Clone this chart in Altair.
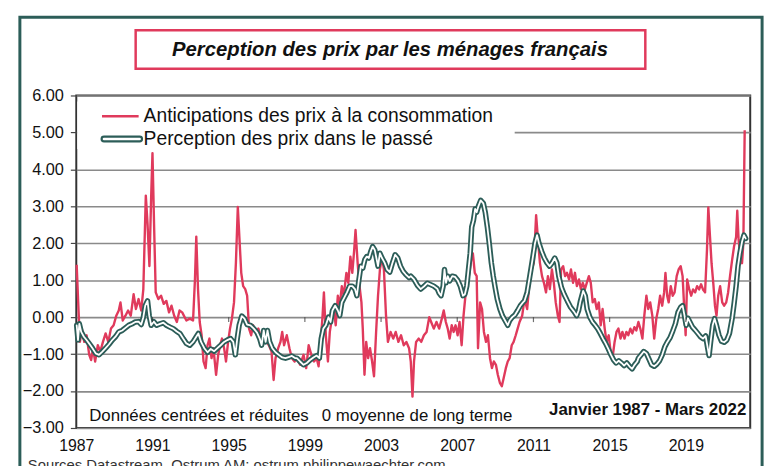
import altair as alt
import pandas as pd

# ---------------- data ----------------
red_years = [1987.02, 1987.10, 1987.19, 1987.29, 1987.42, 1987.54, 1987.68, 1987.78, 1987.88, 1987.99,
             1988.13, 1988.26, 1988.40, 1988.54, 1988.68, 1988.82, 1988.96, 1989.10, 1989.23, 1989.32,
             1989.44, 1989.58, 1989.72, 1989.86, 1990.01, 1990.13, 1990.27, 1990.41, 1990.52, 1990.65,
             1990.74, 1990.84, 1990.93, 1991.00, 1991.09, 1991.17, 1991.31, 1991.45, 1991.59, 1991.73,
             1991.87, 1992.00, 1992.14, 1992.28, 1992.42, 1992.56, 1992.78, 1992.96, 1993.13, 1993.23,
             1993.30, 1993.39, 1993.48, 1993.58, 1993.68, 1993.79, 1993.89, 1993.99, 1994.10, 1994.20,
             1994.34, 1994.45, 1994.55, 1994.65, 1994.76, 1994.86, 1994.97, 1995.07, 1995.17, 1995.28,
             1995.38, 1995.48, 1995.57, 1995.66, 1995.76, 1995.87, 1995.97, 1996.07, 1996.18, 1996.28,
             1996.42, 1996.56, 1996.70, 1996.84, 1996.98, 1997.11, 1997.25, 1997.36, 1997.46, 1997.60,
             1997.72, 1997.81, 1997.91, 1998.05, 1998.19, 1998.32, 1998.46, 1998.58, 1998.75, 1998.93,
             1999.07, 1999.20, 1999.34, 1999.48, 1999.62, 1999.72, 1999.83, 1999.93, 2000.00, 2000.10,
             2000.21, 2000.31, 2000.42, 2000.52, 2000.62, 2000.73, 2000.83, 2000.94, 2001.04, 2001.18,
             2001.28, 2001.39, 2001.49, 2001.59, 2001.66, 2001.77, 2001.87, 2001.97, 2002.04, 2002.13,
             2002.22, 2002.32, 2002.42, 2002.53, 2002.63, 2002.74, 2002.84, 2002.94, 2003.05, 2003.15,
             2003.26, 2003.36, 2003.50, 2003.64, 2003.77, 2003.91, 2004.05, 2004.19, 2004.33, 2004.47,
             2004.56, 2004.65, 2004.73, 2004.84, 2004.98, 2005.11, 2005.25, 2005.39, 2005.53, 2005.63,
             2005.77, 2005.91, 2006.05, 2006.19, 2006.29, 2006.40, 2006.50, 2006.60, 2006.71, 2006.81,
             2006.91, 2007.02, 2007.12, 2007.23, 2007.33, 2007.43, 2007.54, 2007.64, 2007.75, 2007.82,
             2007.92, 2008.02, 2008.09, 2008.20, 2008.30, 2008.40, 2008.51, 2008.61, 2008.72, 2008.82,
             2008.92, 2009.03, 2009.13, 2009.24, 2009.34, 2009.44, 2009.55, 2009.65, 2009.75, 2009.86,
             2009.96, 2010.07, 2010.17, 2010.27, 2010.41, 2010.53, 2010.67, 2010.79, 2010.91, 2011.02,
             2011.14, 2011.24, 2011.34, 2011.45, 2011.55, 2011.66, 2011.76, 2011.86, 2011.97, 2012.07,
             2012.17, 2012.28, 2012.37, 2012.45, 2012.56, 2012.66, 2012.76, 2012.87, 2012.97, 2013.08,
             2013.18, 2013.28, 2013.39, 2013.49, 2013.59, 2013.70, 2013.80, 2013.91, 2014.01, 2014.11,
             2014.22, 2014.32, 2014.43, 2014.53, 2014.63, 2014.74, 2014.84, 2014.95, 2015.05, 2015.15,
             2015.26, 2015.36, 2015.46, 2015.57, 2015.67, 2015.78, 2015.88, 2015.98, 2016.09, 2016.19,
             2016.30, 2016.40, 2016.51, 2016.61, 2016.72, 2016.82, 2016.93, 2017.03, 2017.13, 2017.24,
             2017.34, 2017.45, 2017.55, 2017.65, 2017.76, 2017.86, 2017.93, 2018.02, 2018.10, 2018.21,
             2018.31, 2018.41, 2018.52, 2018.62, 2018.73, 2018.83, 2018.90, 2018.99, 2019.07, 2019.18,
             2019.28, 2019.38, 2019.49, 2019.59, 2019.70, 2019.80, 2019.90, 2020.01, 2020.11, 2020.18,
             2020.27, 2020.35, 2020.44, 2020.53, 2020.61, 2020.70, 2020.80, 2020.91, 2021.01, 2021.12,
             2021.22, 2021.32, 2021.43, 2021.53, 2021.64, 2021.70, 2021.77, 2021.86, 2021.95, 2022.02,
             2022.09]
red_vals = [1.42, 0.40, -0.67, -0.31, -0.67, -0.49, -1.02, -1.16, -0.84, -1.20,
            -0.76, -0.93, -0.67, -0.44, -0.67, -0.31, -0.22, 0.04, 0.18, 0.40,
            -0.09, 0.04, 0.18, 0.04, 0.62, 0.22, 0.49, 0.18, 0.76, 3.29,
            2.53, 1.38, 3.24, 4.44, 2.36, 0.67, 0.49, 0.58, 0.36, 0.44,
            0.13, 0.31, 0.04, -0.13, 0.18, 0.13, -0.09, -0.04, -0.09, 1.02,
            2.18, 0.76, -0.13, -0.49, -1.20, -1.38, -0.76, -0.58, -1.11, -0.84,
            -1.56, -1.02, -0.76, -0.58, -0.84, -1.20, -0.67, -0.31, -0.04, 0.40,
            1.47, 2.98, 2.09, 1.20, 0.84, 0.76, 0.58, -0.31, -0.49, -0.22,
            -0.40, -0.31, -0.58, -0.40, -0.67, -0.76, -0.93, -1.70, -1.11, -0.84,
            -0.67, -0.40, -0.76, -0.49, -0.84, -1.11, -1.20, -1.11, -1.29, -1.02,
            -1.38, -0.76, -1.02, -1.20, -1.11, -1.33, -0.67, 0.04, 0.67, -0.49,
            -1.20, -0.40, -0.04, 0.22, -0.22, 0.58, 0.31, 0.84, 0.58, 1.20,
            0.93, 1.64, 1.20, 1.82, 2.36, 1.47, 0.84, 0.40, -0.31, -1.56,
            -0.67, -1.11, -0.84, -1.20, -1.60, -0.40, 0.58, 1.29, 1.64, 1.29,
            0.04, -0.67, -0.40, -0.58, -0.40, -0.67, -0.49, -0.76, -0.67, -0.84,
            -1.20, -2.15, -1.20, -0.67, -0.58, -0.67, -0.49, -0.40, 0.00, -0.13,
            -0.31, -0.13, -0.31, -0.04, 0.18, -0.13, -0.31, -0.58, -0.22, -0.40,
            -0.22, -0.49, -0.13, -0.76, 0.04, 0.58, 0.93, 1.20, 1.64, 1.73,
            1.20, 1.11, -0.84, 0.40, 0.22, -0.40, -0.67, -0.49, -1.11, -1.38,
            -1.20, -1.29, -1.56, -1.78, -1.87, -1.64, -1.38, -1.20, -1.11, -0.76,
            -0.67, -0.49, -0.31, -0.13, 0.04, 0.49, 0.22, 0.93, 1.29, 1.47,
            2.76, 2.09, 1.47, 1.11, 0.93, 0.67, 1.11, 0.76, 1.29, 0.93,
            0.40, 0.04, -0.13, 1.29, 1.38, 1.11, 1.20, 1.02, 1.29, 0.93,
            1.20, 0.84, 1.02, 0.76, 0.93, 0.76, 0.93, 1.11, 0.93, 0.40,
            0.49, 0.22, 0.40, -0.22, 0.22, -0.31, -0.67, -0.49, -0.93, -1.11,
            -0.67, -0.40, -0.31, -0.58, -0.40, -0.58, -0.40, -0.49, -0.31, -0.44,
            -0.27, -0.36, -0.13, -0.31, -0.58, 0.04, 0.58, 0.22, 0.40, 0.04,
            -0.58, -0.04, 0.22, 0.58, 0.31, 0.67, 1.20, 0.58, 0.40, 0.84,
            0.58, 0.67, 1.11, 1.29, 1.38, 1.11, 0.40, -0.49, 1.02, 0.75,
            0.58, 0.75, 0.67, 0.84, 0.75, 0.89, 0.75, 0.67, 1.82, 2.97,
            2.17, 1.46, 0.93, 0.31, 0.04, 0.58, 0.84, 0.40, 0.31, 0.40,
            0.67, 1.11, 1.55, 1.91, 2.17, 2.88, 2.09, 1.64, 1.46, 2.00,
            5.06]

perc_years = [1987.02, 1987.09, 1987.16, 1987.26, 1987.40, 1987.54, 1987.67, 1987.85, 1988.02, 1988.19,
              1988.37, 1988.54, 1988.71, 1988.89, 1989.06, 1989.23, 1989.41, 1989.58, 1989.75, 1989.93,
              1990.10, 1990.27, 1990.41, 1990.52, 1990.62, 1990.74, 1990.83, 1990.93, 1991.07, 1991.22,
              1991.40, 1991.57, 1991.74, 1991.92, 1992.09, 1992.26, 1992.44, 1992.61, 1992.78, 1992.96,
              1993.13, 1993.30, 1993.41, 1993.55, 1993.72, 1993.89, 1994.06, 1994.24, 1994.41, 1994.58,
              1994.76, 1994.93, 1995.10, 1995.24, 1995.35, 1995.45, 1995.55, 1995.69, 1995.83, 1995.97,
              1996.14, 1996.32, 1996.49, 1996.63, 1996.73, 1996.84, 1996.94, 1997.04, 1997.15, 1997.29,
              1997.46, 1997.63, 1997.81, 1997.98, 1998.15, 1998.32, 1998.50, 1998.58, 1998.75, 1998.93,
              1999.10, 1999.27, 1999.45, 1999.62, 1999.76, 1999.86, 1999.97, 2000.10, 2000.24, 2000.35,
              2000.45, 2000.59, 2000.73, 2000.83, 2000.94, 2001.07, 2001.21, 2001.35, 2001.49, 2001.63,
              2001.73, 2001.84, 2001.94, 2002.04, 2002.15, 2002.25, 2002.36, 2002.46, 2002.56, 2002.67,
              2002.77, 2002.84, 2002.94, 2003.05, 2003.19, 2003.32, 2003.46, 2003.60, 2003.74, 2003.88,
              2004.02, 2004.16, 2004.29, 2004.47, 2004.56, 2004.73, 2004.91, 2005.08, 2005.25, 2005.43,
              2005.60, 2005.77, 2005.95, 2006.05, 2006.15, 2006.26, 2006.33, 2006.41, 2006.50, 2006.60,
              2006.74, 2006.88, 2007.02, 2007.16, 2007.30, 2007.40, 2007.50, 2007.59, 2007.68, 2007.76,
              2007.85, 2007.94, 2008.02, 2008.11, 2008.23, 2008.37, 2008.47, 2008.58, 2008.68, 2008.79,
              2008.89, 2008.99, 2009.10, 2009.24, 2009.37, 2009.51, 2009.65, 2009.75, 2009.89, 2010.03,
              2010.17, 2010.31, 2010.45, 2010.53, 2010.67, 2010.81, 2010.95, 2011.08, 2011.19, 2011.29,
              2011.43, 2011.57, 2011.71, 2011.85, 2011.98, 2012.12, 2012.23, 2012.33, 2012.47, 2012.61,
              2012.78, 2012.95, 2013.13, 2013.27, 2013.37, 2013.47, 2013.61, 2013.72, 2013.82, 2013.96,
              2014.10, 2014.24, 2014.37, 2014.51, 2014.65, 2014.79, 2014.93, 2015.07, 2015.21, 2015.34,
              2015.48, 2015.62, 2015.76, 2015.90, 2016.04, 2016.18, 2016.31, 2016.45, 2016.51, 2016.65,
              2016.79, 2016.93, 2017.06, 2017.20, 2017.34, 2017.48, 2017.62, 2017.76, 2017.90, 2018.03,
              2018.17, 2018.31, 2018.45, 2018.59, 2018.73, 2018.83, 2018.93, 2019.02, 2019.11, 2019.21,
              2019.35, 2019.49, 2019.63, 2019.77, 2019.90, 2020.04, 2020.15, 2020.22, 2020.30, 2020.41,
              2020.51, 2020.61, 2020.74, 2020.87, 2021.01, 2021.15, 2021.29, 2021.43, 2021.53, 2021.64,
              2021.74, 2021.84, 2021.95, 2022.05, 2022.14]
perc_vals = [-0.22, -0.62, -0.18, -0.40, -0.53, -0.62, -0.71, -0.84, -0.98, -1.02,
             -0.93, -0.84, -0.74, -0.62, -0.53, -0.40, -0.36, -0.29, -0.22, -0.18,
             -0.13, -0.12, -0.20, 0.00, 0.31, 0.44, 0.04, -0.22, -0.12, -0.22,
             -0.18, -0.15, -0.22, -0.27, -0.31, -0.38, -0.44, -0.58, -0.71, -0.76,
             -0.67, -0.53, -0.44, -0.67, -0.84, -0.95, -0.86, -0.92, -0.84, -0.76,
             -0.67, -0.62, -0.58, -0.67, -1.02, -0.58, -0.22, 0.03, -0.04, -0.20,
             -0.22, -0.31, -0.42, -0.58, -0.76, -0.36, -0.67, -0.36, -0.67, -0.84,
             -0.95, -1.02, -1.09, -1.11, -1.08, -1.05, -1.11, -1.11, -1.20, -1.29,
             -1.24, -1.16, -1.09, -1.04, -1.11, -0.58, -0.31, -0.22, 0.00, -0.13,
             0.18, 0.31, 0.18, 0.04, 0.40, 0.53, 0.67, 0.84, 0.84, 0.76,
             0.58, 1.02, 1.38, 1.33, 1.56, 1.64, 1.60, 1.78, 1.91, 1.82,
             1.56, 1.38, 1.73, 1.60, 1.47, 1.29, 1.22, 1.47, 1.69, 1.60,
             1.38, 1.24, 1.16, 1.07, 1.11, 1.02, 0.86, 0.76, 0.83, 0.92,
             0.88, 0.84, 0.77, 0.65, 0.58, 0.84, 1.29, 0.93, 1.11, 0.98,
             1.11, 1.09, 1.00, 0.84, 0.58, 0.62, 0.84, 1.29, 1.73, 2.44,
             2.62, 2.93, 2.84, 3.00, 3.16, 3.08, 2.84, 2.44, 2.00, 1.47,
             1.11, 0.80, 0.49, 0.22, 0.04, -0.09, -0.22, -0.09, 0.00, 0.06,
             0.18, 0.31, 0.40, 0.44, 0.67, 1.11, 1.56, 2.00, 2.22, 2.00,
             1.78, 1.60, 1.47, 1.38, 1.47, 1.60, 1.47, 1.11, 0.80, 0.62,
             0.44, 0.27, 0.15, 0.04, 0.18, 0.44, 0.71, 0.58, 0.22, 0.00,
             -0.13, -0.22, -0.31, -0.44, -0.58, -0.71, -0.86, -1.02, -1.16, -1.24,
             -1.18, -1.24, -1.31, -1.24, -1.33, -1.40, -1.29, -1.20, -1.11, -1.02,
             -0.93, -0.98, -1.13, -1.29, -1.33, -1.27, -1.18, -1.02, -0.80, -0.67,
             -0.56, -0.38, -0.18, 0.13, 0.27, 0.31, 0.04, -0.22, -0.03, -0.13,
             -0.27, -0.35, -0.44, -0.53, -0.58, -0.51, -0.84, -1.04, -0.67, -0.22,
             -0.04, -0.22, -0.49, -0.65, -0.68, -0.62, -0.44, -0.04, 0.35, 0.84,
             1.38, 1.73, 2.04, 2.22, 2.13]

tick_years = [1987, 1991, 1995, 1999, 2003, 2007, 2011, 2015, 2019]
y_ticks = [-3, -2, -1, 0, 1, 2, 3, 4, 5, 6]

title_text = "Perception des prix par les ménages français"
legend_red = "Anticipations des prix à la consommation"
legend_teal = "Perception des prix dans le passé"
note_left = "Données centrées et réduites"
note_mid = "0 moyenne de long terme"
note_right = "Janvier 1987 - Mars 2022"
sources = "Sources Datastream, Ostrum AM; ostrum.philippewaechter.com"

# ---------------- styling ----------------
RED = "#e03a5c"
TEAL = "#2c5d58"
FONT = "Liberation Sans"
INK = "#111111"

x_scale = alt.Scale(domain=[1987, 2022.38], nice=False, zero=False)
y_scale = alt.Scale(domain=[-3, 6], nice=False, zero=False)

x_axis = alt.Axis(values=tick_years, format="d", title=None, grid=False, ticks=False,
                  domain=False, labelFontSize=16, labelFont=FONT, labelColor=INK,
                  labelPadding=10, labelFlush=False, labelOverlap=False)
y_axis = alt.Axis(values=y_ticks, format=".2f", title=None, grid=True, gridColor="#8a8a8a",
                  gridWidth=1.6, ticks=True, tickSize=6, tickColor="#444444", tickWidth=1.2,
                  domain=False, labelFontSize=16.5, labelFont=FONT, labelColor=INK,
                  labelPadding=7, labelFlush=False, labelOverlap=False)

red_df = pd.DataFrame({"year": red_years, "value": red_vals})
perc_df = pd.DataFrame({"year": perc_years, "value": perc_vals})
zero_df = pd.DataFrame({"year": tick_years[1:], "value": [0] * (len(tick_years) - 1)})
one = pd.DataFrame({"k": [0]})

X = alt.X("year:Q", scale=x_scale, axis=x_axis)
Y = alt.Y("value:Q", scale=y_scale, axis=y_axis)

frame = alt.Chart(one).mark_rect(fillOpacity=0, stroke=TEAL, strokeWidth=3).encode(
    x=alt.value(-57), x2=alt.value(693), y=alt.value(-79), y2=alt.value(420))

title_box = alt.Chart(one).mark_rect(fill="white", stroke=RED, strokeWidth=2.5).encode(
    x=alt.value(60), x2=alt.value(575), y=alt.value(-66), y2=alt.value(-27))
title = alt.Chart(one).mark_text(text=title_text, font=FONT, fontSize=20.5, fontWeight="bold",
                                 fontStyle="italic", align="center", baseline="middle",
                                 color=INK).encode(x=alt.value(317), y=alt.value(-46))

red_line = alt.Chart(red_df).mark_line(color=RED, strokeWidth=2.4, strokeJoin="round").encode(x=X, y=Y)
teal_outer = alt.Chart(perc_df).mark_line(color=TEAL, strokeWidth=5.5, strokeJoin="round",
                                          strokeCap="round").encode(x=X, y=Y)
teal_inner = alt.Chart(perc_df).mark_line(color="white", strokeWidth=1.8, strokeJoin="round",
                                          strokeCap="round").encode(x=X, y=Y)

# small tick marks hanging below the zero line
zero_ticks = alt.Chart(zero_df).mark_tick(color="#333333", thickness=1.2, size=5,
                                          orient="vertical", yOffset=2.5).encode(x=X, y=Y)

legend_bg = alt.Chart(one).mark_rect(fill="white").encode(
    x=alt.value(1), x2=alt.value(443), y=alt.value(6), y2=alt.value(54))
leg_red = alt.Chart(one).mark_rule(color=RED, strokeWidth=2.5).encode(
    x=alt.value(26), x2=alt.value(63), y=alt.value(21))
leg_teal_o = alt.Chart(one).mark_rule(color=TEAL, strokeWidth=7, strokeCap="round").encode(
    x=alt.value(28), x2=alt.value(64), y=alt.value(44))
leg_teal_i = alt.Chart(one).mark_rule(color="white", strokeWidth=2.6, strokeCap="round").encode(
    x=alt.value(28), x2=alt.value(64), y=alt.value(44))
leg_text_red = alt.Chart(one).mark_text(text=legend_red, font=FONT, fontSize=19.5, align="left",
                                        baseline="middle", color=INK).encode(
    x=alt.value(68), y=alt.value(21))
leg_text_teal = alt.Chart(one).mark_text(text=legend_teal, font=FONT, fontSize=19.5, align="left",
                                         baseline="middle", color=INK).encode(
    x=alt.value(68), y=alt.value(44))

n_left = alt.Chart(one).mark_text(text=note_left, font=FONT, fontSize=17, align="left",
                                  baseline="middle", color=INK).encode(x=alt.value(13), y=alt.value(324))
n_mid = alt.Chart(one).mark_text(text=note_mid, font=FONT, fontSize=17, align="left",
                                 baseline="middle", color=INK).encode(x=alt.value(248), y=alt.value(324))
n_right = alt.Chart(one).mark_text(text=note_right, font=FONT, fontSize=17, fontWeight="bold",
                                   align="right", baseline="middle", color=INK).encode(
    x=alt.value(677), y=alt.value(318))
src = alt.Chart(one).mark_text(text=sources, font=FONT, fontSize=15, align="left",
                               baseline="top", color="#333333").encode(x=alt.value(-49), y=alt.value(366))

chart = alt.layer(
    frame, title_box, title, red_line, teal_outer, teal_inner, zero_ticks,
    legend_bg, leg_red, leg_teal_o, leg_teal_i, leg_text_red, leg_text_teal,
    n_left, n_mid, n_right, src
).properties(
    width=681, height=336,
    autosize=alt.AutoSizeParams(type="none"),
    padding={"left": 69, "top": 86, "right": 21, "bottom": 36},
    background="white",
).configure_view(stroke="#333333", strokeWidth=2)

chart.save("out.html", embed_options={"renderer": "svg", "actions": False})
